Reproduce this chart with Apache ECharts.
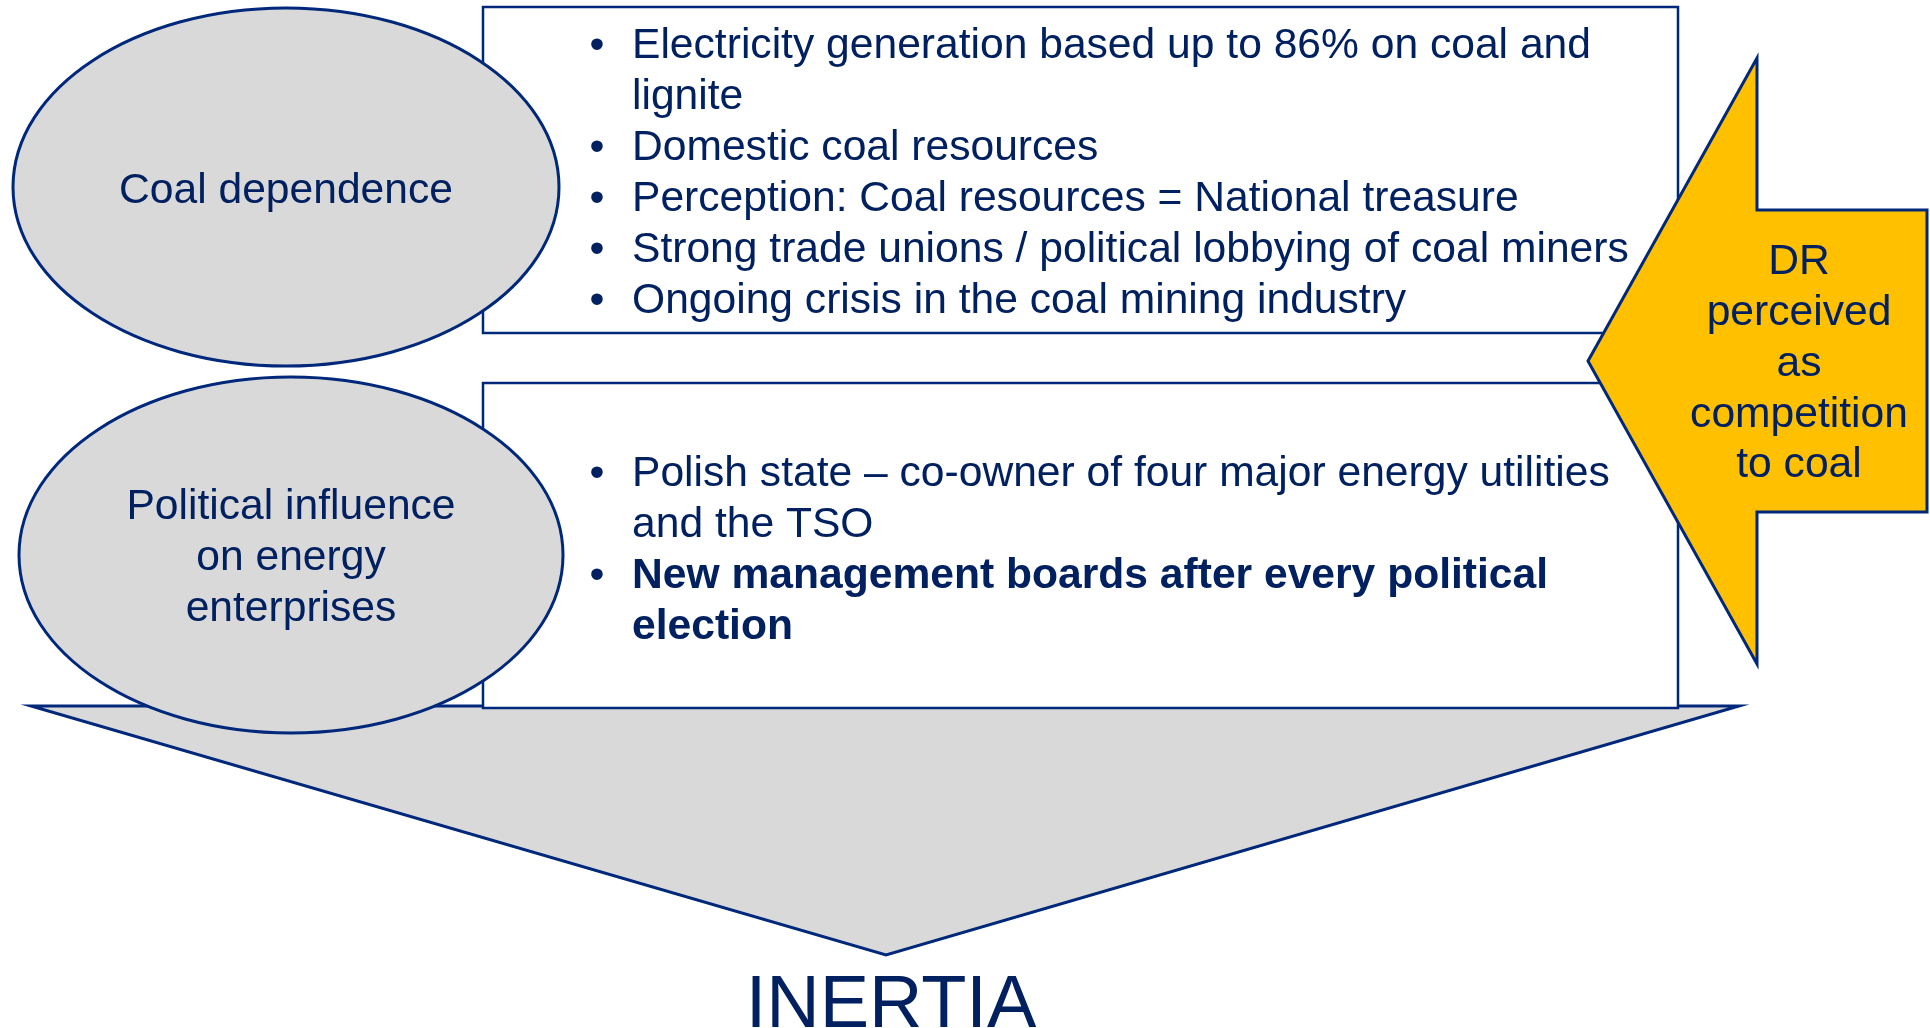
<!DOCTYPE html>
<html>
<head>
<meta charset="utf-8">
<script src="https://cdn.jsdelivr.net/npm/echarts@6/dist/echarts.min.js"></script>
<style>
html,body{margin:0;padding:0;background:#fff;}
#c{width:1930px;height:1028px;}
</style>
</head>
<body>
<div id="c"></div>
<script>
// ---- content (texts) ----
const ellipseLabels = [
  ['Coal dependence'],
  ['Political influence', 'on energy', 'enterprises']
];
const coalItems = [
  ['Electricity generation based up to 86% on coal and', 'lignite'],
  ['Domestic coal resources'],
  ['Perception: Coal resources = National treasure'],
  ['Strong trade unions / political lobbying of coal miners'],
  ['Ongoing crisis in the coal mining industry']
];
const politicalItems = [
  ['Polish state \u2013 co-owner of four major energy utilities', 'and the TSO'],
  ['New management boards after every political', 'election']
];
const politicalBold = [false, true];
const arrowLines = ['DR', 'perceived', 'as', 'competition', 'to coal'];
const resultLabel = 'INERTIA';

// ---- style ----
const NAVY = '#002060';
const STROKE = '#00287A';
const GREY = '#D9D9D9';
const YELLOW = '#FFC000';
const FONT = '"Liberation Sans", Arial, sans-serif';
const FS = 42.6;
const LH = 51;

const chart = echarts.init(document.getElementById('c'), null, {renderer: 'canvas'});
const els = [];

function textLine(str, x, baseline, opts) {
  opts = opts || {};
  const fs = opts.fontSize || FS;
  els.push({
    type: 'text', z: opts.z || 10,
    style: {
      text: str, x: x, y: baseline - 0.25 * fs,
      fill: NAVY, fontSize: fs, fontFamily: FONT,
      fontWeight: opts.bold ? 'bold' : 'normal',
      align: opts.align || 'left', verticalAlign: 'middle'
    }
  });
}

// triangle (bottom layer)
els.push({
  type: 'polygon', z: 1,
  shape: {points: [[31, 706], [1739, 706], [886, 955]]},
  style: {fill: GREY, stroke: STROKE, lineWidth: 3, lineJoin: 'miter'}
});
// boxes
els.push({type: 'rect', z: 2, shape: {x: 483, y: 7, width: 1195, height: 326},
  style: {fill: '#fff', stroke: STROKE, lineWidth: 2.5}});
els.push({type: 'rect', z: 2, shape: {x: 483, y: 383, width: 1195, height: 325},
  style: {fill: '#fff', stroke: STROKE, lineWidth: 2.5}});
// ellipses
els.push({type: 'ellipse', z: 3, shape: {cx: 286, cy: 187, rx: 273, ry: 179},
  style: {fill: GREY, stroke: STROKE, lineWidth: 3}});
els.push({type: 'ellipse', z: 3, shape: {cx: 291, cy: 555, rx: 272, ry: 178},
  style: {fill: GREY, stroke: STROKE, lineWidth: 3}});
// yellow arrow
els.push({
  type: 'polygon', z: 4,
  shape: {points: [[1588, 361], [1757, 58], [1757, 210], [1927, 210], [1927, 512], [1757, 512], [1757, 664]]},
  style: {fill: YELLOW, stroke: STROKE, lineWidth: 3, lineJoin: 'miter'}
});

// ellipse labels
const ellipseCx = [286, 291];
const ellipseFirstBaseline = [202, 518];
ellipseLabels.forEach((lines, i) => {
  lines.forEach((l, j) => textLine(l, ellipseCx[i], ellipseFirstBaseline[i] + j * LH, {align: 'center'}));
});

// bullet lists
function bulletList(items, firstBaseline, boldFlags) {
  let b = firstBaseline;
  items.forEach((lines, i) => {
    const bold = boldFlags ? boldFlags[i] : false;
    textLine('\u2022', 597, b, {align: 'center'});
    lines.forEach((l) => { textLine(l, 632, b, {bold: bold}); b += LH; });
  });
}
bulletList(coalItems, 57, null);
bulletList(politicalItems, 485, politicalBold);

// arrow text
arrowLines.forEach((l, j) => textLine(l, 1799, 273 + j * 50.8, {align: 'center'}));

// result
textLine(resultLabel, 891, 1025, {align: 'center', fontSize: 74});

chart.setOption({
  animation: false,
  backgroundColor: '#ffffff',
  graphic: {elements: els}
});
</script>
</body>
</html>
